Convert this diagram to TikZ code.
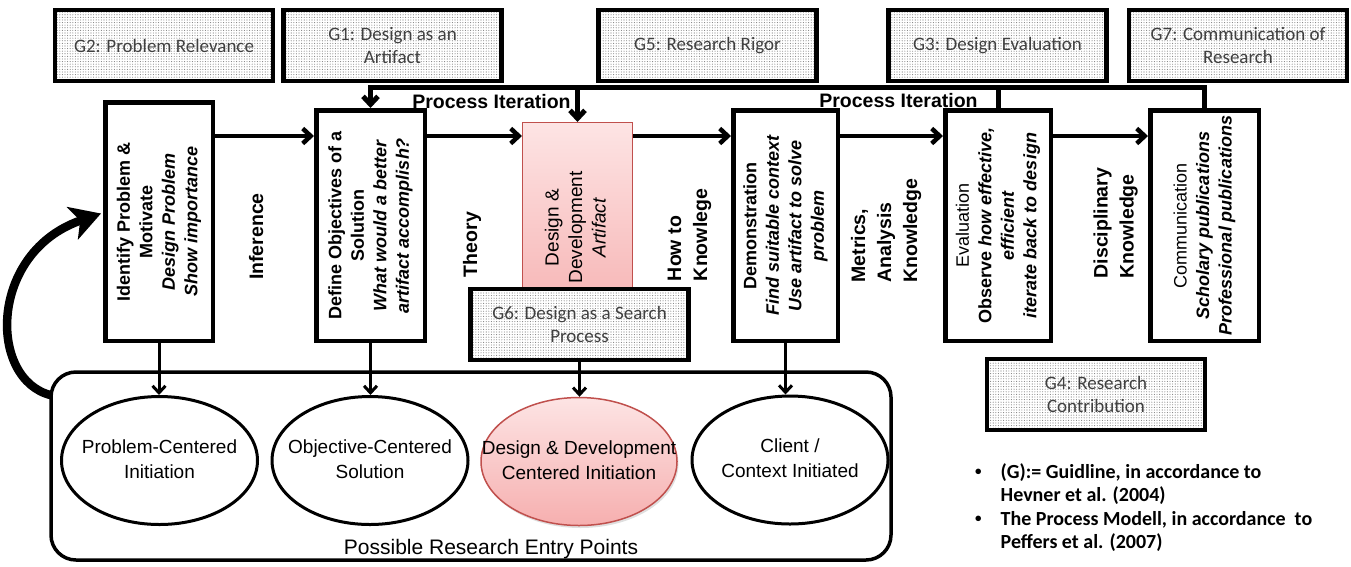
\documentclass[tikz,border=0pt]{standalone}
\usepackage{fontspec}
\setmainfont{Liberation Sans}
\newfontfamily\calibri{Carlito}
\usepackage{graphicx}
\usetikzlibrary{arrows.meta,shapes.geometric,patterns,calc,shadows}

% fine dot texture for the guideline boxes
\pgfdeclarepatternformonly{finedots}{\pgfqpoint{-0.6pt}{-0.6pt}}{\pgfqpoint{0.6pt}{0.6pt}}{\pgfqpoint{2.6pt}{2.6pt}}{\pgfpathcircle{\pgfpointorigin}{0.55pt}\pgfusepath{fill}}

\definecolor{gtext}{HTML}{404040}
\definecolor{pinktop}{HTML}{FDE4E4}
\definecolor{pinkbot}{HTML}{F6AFAF}
\definecolor{pinkline}{HTML}{C0504D}

% stacked lines turned to read bottom-to-top
\newcommand{\rotlines}[2]{\rotatebox{90}{\begin{tabular}{@{}#1@{}}#2\end{tabular}}}
% stacked lines that take no width (for the ellipses)
\newcommand{\centerlines}[1]{\makebox[0pt]{\begin{tabular}{@{}c@{}}#1\end{tabular}}}
% small list bullet
\newcommand{\notebullet}{\raisebox{0.25ex}{\fontsize{13}{13}\selectfont •}}

\begin{document}
\begin{tikzpicture}[x=1pt,y=-1pt,
  gbox/.style={draw, line width=4.5pt, preaction={fill=white}, pattern=finedots, pattern color=gray,
    minimum width=218pt, minimum height=71pt, inner sep=0pt, align=center, text=gtext,
    font=\calibri\fontsize{19}{23}\selectfont},
  procbox/.style={draw, line width=4.5pt, fill=white, inner sep=0pt,
    font=\fontsize{18}{22.5}\selectfont\bfseries},
  sidelabel/.style={inner sep=0pt, font=\fontsize{19.5}{26}\selectfont\bfseries},
  iterlabel/.style={inner sep=0pt, anchor=base, font=\fontsize{19.5}{22}\selectfont\bfseries},
  flow/.style={line width=4.5pt, -{Straight Barb[length=8pt,width=15pt]}},
  iter/.style={line width=5pt, -{Straight Barb[length=8pt,width=15pt]}},
  drop/.style={line width=3pt, -{Straight Barb[length=7pt,width=13pt]}},
  entry/.style={ellipse, draw, line width=3pt, fill=white, minimum width=196pt, minimum height=128pt,
    inner sep=0pt, font=\fontsize{19}{25}\selectfont},
]
\useasboundingbox (0,0) rectangle (1351,566);

% guideline boxes along the top
\node[gbox] (g2) at (164,45.5) {G2: Problem Relevance};
\node[gbox] (g1) at (392.5,45.5) {G1: Design as an\\Artifact};
\node[gbox] (g5) at (707.5,45.5) {G5: Research Rigor};
\node[gbox] (g3) at (997.5,45.5) {G3: Design Evaluation};
\node[gbox] (g7) at (1238,45.5) {G7: Communication of\\Research};

% process steps
\node[procbox, minimum width=107.5pt, minimum height=238.5pt] (ident) at (159,221.5)
  {\rotlines{c}{Identify Problem \&\\Motivate\\\textit{Design Problem}\\\textit{Show importance}}};
\node[procbox, minimum width=108.5pt, minimum height=230.5pt] (define) at (370.5,225.5)
  {\rotlines{c}{Define Objectives of a\\Solution\\\textit{What would a better}\\\textit{artifact accomplish?}}};
\node[draw=pinkline, line width=1pt, top color=pinktop, bottom color=pinkbot,
  minimum width=110pt, minimum height=210pt, inner sep=0pt, font=\fontsize{19}{23.5}\selectfont] (design) at (577.5,227.5)
  {\rotlines{c}{Design \&\\Development\\\textit{Artifact}}};
\node[procbox, minimum width=104.5pt, minimum height=230.5pt] (demo) at (785.5,225.5)
  {\rotlines{c}{Demonstration\\\textit{Find suitable context}\\\textit{Use artifact to solve}\\\textit{problem}}};
\node[procbox, minimum width=105.5pt, minimum height=230.5pt] (eval) at (998,225.5)
  {\rotlines{c}{\textmd{Evaluation}\\Observe \textit{how effective,}\\\textit{efficient}\\\textit{iterate back to design}}};
\node[procbox, minimum width=108.5pt, minimum height=230.5pt] (comm) at (1204.5,225.5)
  {\rotlines{c}{\textmd{Communication}\\\textit{Scholary publications}\\\textit{Professional publications}}};

% knowledge labels between the steps
\node[sidelabel] (inference) at (258,236.5) {\rotlines{c}{Inference}};
\node[sidelabel] (theory) at (472,244.5) {\rotlines{c}{Theory}};
\node[sidelabel] (howto) at (689,235) {\rotlines{l}{How to\\Knowlege}};
\node[sidelabel] (metrics) at (886,230.5) {\rotlines{l}{Metrics,\\Analysis\\Knowledge}};
\node[sidelabel] (discipl) at (1115.5,223) {\rotlines{l}{Disciplinary\\Knowledge}};

% main flow
\coordinate (flowrow) at (0,136);
\draw[flow] (ident.east |- flowrow) -- (define.west |- flowrow);
\draw[flow] (define.east |- flowrow) -- (design.west |- flowrow);
\draw[flow] (design.east |- flowrow) -- (demo.west |- flowrow);
\draw[flow] (demo.east |- flowrow) -- (eval.west |- flowrow);
\draw[flow] (eval.east |- flowrow) -- (comm.west |- flowrow);

% process iteration loops
\coordinate (iterrow) at (0,87);
\draw[iter] (comm.north) -- (comm.north |- iterrow) -- (define.north |- iterrow) -- (define.north);
\draw[iter] (eval.north) -- (eval.north |- iterrow) -- (design.north |- iterrow) -- (design.north);
\node[iterlabel] (pi1) at (491.5,108) {Process Iteration};
\node[iterlabel] (pi2) at (898.5,107) {Process Iteration};

% guidelines placed lower
\node[gbox] (g6) at (579.5,324.5) {G6: Design as a Search\\Process};
\node[gbox] (g4) at (1096,394.5) {G4: Research\\Contribution};

% research entry points
\node[draw, line width=3.5pt, rounded corners=25pt, minimum width=840pt, minimum height=188pt, inner sep=0pt] (entrybox) at (471,466) {};
\node[inner sep=0pt, anchor=base, font=\fontsize{21}{25}\selectfont] (entrylabel) at (491,554) {Possible Research Entry Points};

\node[entry] (e1) at (159.5,460.5) {\centerlines{Problem-Centered\\Initiation}};
\node[entry] (e2) at (370,460.5) {\centerlines{Objective-Centered\\Solution}};
\node[entry, draw=pinkline, line width=1.5pt, top color=pinktop, bottom color=pinkbot,
  drop shadow={shadow xshift=1.5pt, shadow yshift=-2.5pt, opacity=0.25}] (e3) at (579,461.5)
  {\centerlines{Design \& Development\\Centered Initiation}};
\node[entry] (e4) at (790,460) {\centerlines{Client /\\Context Initiated}};

\draw[drop] (ident.south) -- (ident.south |- e1.north);
\draw[drop] (define.south) -- (define.south |- e2.north);
\draw[drop] (g6.south) -- (g6.south |- e3.north);
\draw[drop] (demo.south) -- (demo.south |- e4.north);

% loop back to the first step
\draw[line width=8.5pt, -{Stealth[length=30pt,width=34pt,inset=8pt]}]
  ($(entrybox.north west)+(2,25)$) .. controls (-12,380) and (-12,252) .. ($(ident.west)+(-2,-8)$);

% notes
\node[anchor=base west, inner sep=0pt, font=\calibri\bfseries\fontsize{20}{23.5}\selectfont] (notes) at (975,478)
  {\begin{tabular}[t]{@{}l@{\hspace{19pt}}l@{}}
   \notebullet&(G):= Guidline, in accordance to\\
    &Hevner et al. (2004)\\
   \notebullet&The Process Modell, in accordance\ \ to\\
    &Peffers et al. (2007)
   \end{tabular}};
\end{tikzpicture}
\end{document}
